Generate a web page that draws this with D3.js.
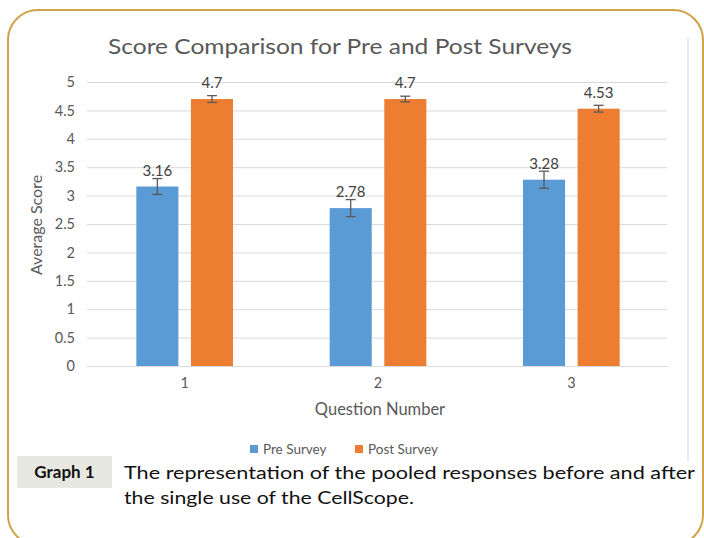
<!DOCTYPE html>
<html>
<head>
<meta charset="utf-8">
<style>
  body { margin: 0; background: #fff; }
  svg { display: block; font-family: Lato, "Open Sans", sans-serif; }
</style>
</head>
<body>
<div id="chart"></div>
<script src="https://d3js.org/d3.v7.min.js"></script>
<script>

  // data
  const questions = ["1", "2", "3"];
  const seriesNames = ["Pre Survey", "Post Survey"];
  const preScores = [3.16, 2.78, 3.28];
  const postScores = [4.7, 4.7, 4.53];
  const preErrors = [0.14, 0.15, 0.15];
  const postErrors = [0.06, 0.05, 0.06];
  const yTicks = [0, 0.5, 1, 1.5, 2, 2.5, 3, 3.5, 4, 4.5, 5];

  const width = 704, height = 538;
  const colors = { "Pre Survey": "#5b9bd5", "Post Survey": "#ed7d31" };
  const textColor = "#595959";

  const rows = questions.map((q, i) => ({
    q: q,
    values: [
      { s: "Pre Survey", v: preScores[i], e: preErrors[i] },
      { s: "Post Survey", v: postScores[i], e: postErrors[i] }
    ]
  }));

  const svg = d3.select("#chart").append("svg")
    .attr("width", width)
    .attr("height", height);

  // card border
  svg.append("rect")
    .attr("x", 8).attr("y", 10)
    .attr("width", 695).attr("height", 535)
    .attr("rx", 30).attr("ry", 30)
    .attr("fill", "#fff")
    .attr("stroke", "#d0a24a")
    .attr("stroke-width", 2);

  // right edge of the pasted chart image
  svg.append("line")
    .attr("x1", 688).attr("x2", 688)
    .attr("y1", 38).attr("y2", 462)
    .attr("stroke", "#d9d9d9");

  const x0 = d3.scaleBand()
    .domain(questions)
    .range([88, 668])
    .paddingInner(0.5)
    .paddingOuter(0.25);

  const x1 = d3.scaleBand()
    .domain(seriesNames)
    .range([0, x0.bandwidth()])
    .paddingInner(0.23);

  const y = d3.scaleLinear()
    .domain([0, 5])
    .range([366, 82]);

  // title
  svg.append("text")
    .attr("x", 340).attr("y", 54)
    .attr("text-anchor", "middle")
    .attr("font-size", 21)
    .attr("fill", textColor)
    .attr("textLength", 464)
    .attr("lengthAdjust", "spacingAndGlyphs")
    .text("Score Comparison for Pre and Post Surveys");

  // gridlines + y axis
  const yAxis = svg.append("g")
    .attr("transform", "translate(87,0)")
    .call(d3.axisLeft(y).tickValues(yTicks).tickSize(-580).tickFormat(d3.format("")).tickPadding(12));
  yAxis.select(".domain").remove();
  yAxis.selectAll(".tick line").attr("stroke", "#d9d9d9");
  yAxis.selectAll(".tick text")
    .attr("fill", textColor)
    .attr("font-size", 14.5)
    .attr("font-family", "Lato, sans-serif");

  // x axis
  const xAxis = svg.append("g")
    .attr("transform", "translate(0,366)")
    .call(d3.axisBottom(x0).tickSize(0).tickPadding(12));
  xAxis.select(".domain").attr("stroke", "#d9d9d9");
  xAxis.selectAll(".tick text")
    .attr("fill", textColor)
    .attr("font-size", 14.5)
    .attr("font-family", "Lato, sans-serif");

  // axis titles
  svg.append("text")
    .attr("transform", "translate(42,225) rotate(-90)")
    .attr("text-anchor", "middle")
    .attr("font-size", 16)
    .attr("fill", textColor)
    .text("Average Score");

  svg.append("text")
    .attr("x", 380).attr("y", 415)
    .attr("text-anchor", "middle")
    .attr("font-size", 16.5)
    .attr("fill", textColor)
    .text("Question Number");

  // bars
  const groups = svg.append("g")
    .selectAll("g")
    .data(rows)
    .join("g")
    .attr("transform", d => `translate(${x0(d.q)},0)`);

  const bar = groups.selectAll("g")
    .data(d => d.values)
    .join("g");

  bar.append("rect")
    .attr("x", d => x1(d.s))
    .attr("y", d => y(d.v))
    .attr("width", x1.bandwidth())
    .attr("height", d => y(0) - y(d.v))
    .attr("fill", d => colors[d.s]);

  // error bars
  const cx = d => x1(d.s) + x1.bandwidth() / 2;
  bar.append("line")
    .attr("x1", cx).attr("x2", cx)
    .attr("y1", d => y(d.v + d.e)).attr("y2", d => y(d.v - d.e))
    .attr("stroke", "#595959").attr("stroke-width", 1.3);
  bar.append("line")
    .attr("x1", d => cx(d) - 5).attr("x2", d => cx(d) + 5)
    .attr("y1", d => y(d.v + d.e)).attr("y2", d => y(d.v + d.e))
    .attr("stroke", "#595959").attr("stroke-width", 1.3);
  bar.append("line")
    .attr("x1", d => cx(d) - 5).attr("x2", d => cx(d) + 5)
    .attr("y1", d => y(d.v - d.e)).attr("y2", d => y(d.v - d.e))
    .attr("stroke", "#595959").attr("stroke-width", 1.3);

  // value labels
  bar.append("text")
    .attr("x", cx)
    .attr("y", d => y(d.v) - 11)
    .attr("text-anchor", "middle")
    .attr("font-size", 15)
    .attr("fill", "#404040")
    .text(d => d.v);

  // legend
  const legend = svg.append("g")
    .attr("transform", "translate(250,449)");
  const legendX = [0, 105];
  const item = legend.selectAll("g")
    .data(seriesNames)
    .join("g")
    .attr("transform", (d, i) => `translate(${legendX[i]},0)`);
  item.append("rect")
    .attr("x", 0).attr("y", -4)
    .attr("width", 8).attr("height", 8)
    .attr("fill", d => colors[d]);
  item.append("text")
    .attr("x", 13).attr("y", 4.5)
    .attr("font-size", 13.5)
    .attr("fill", textColor)
    .text(d => d);

  // caption
  svg.append("rect")
    .attr("x", 17).attr("y", 456)
    .attr("width", 95).attr("height", 32)
    .attr("fill", "#e8e8e3");
  svg.append("text")
    .attr("x", 64.5).attr("y", 478)
    .attr("text-anchor", "middle")
    .attr("font-size", 17)
    .attr("font-weight", "bold")
    .attr("fill", "#111")
    .text("Graph 1");

  const captionLines = [
    "The representation of the pooled responses before and after",
    "the single use of the CellScope."
  ];
  const captionWidths = [571, 290];
  svg.append("g").selectAll("text")
    .data(captionLines)
    .join("text")
    .attr("x", 124)
    .attr("y", (d, i) => 479 + i * 25)
    .attr("font-size", 18)
    .attr("fill", "#111")
    .attr("textLength", (d, i) => captionWidths[i])
    .attr("lengthAdjust", "spacingAndGlyphs")
    .text(d => d);

</script>
</body>
</html>
